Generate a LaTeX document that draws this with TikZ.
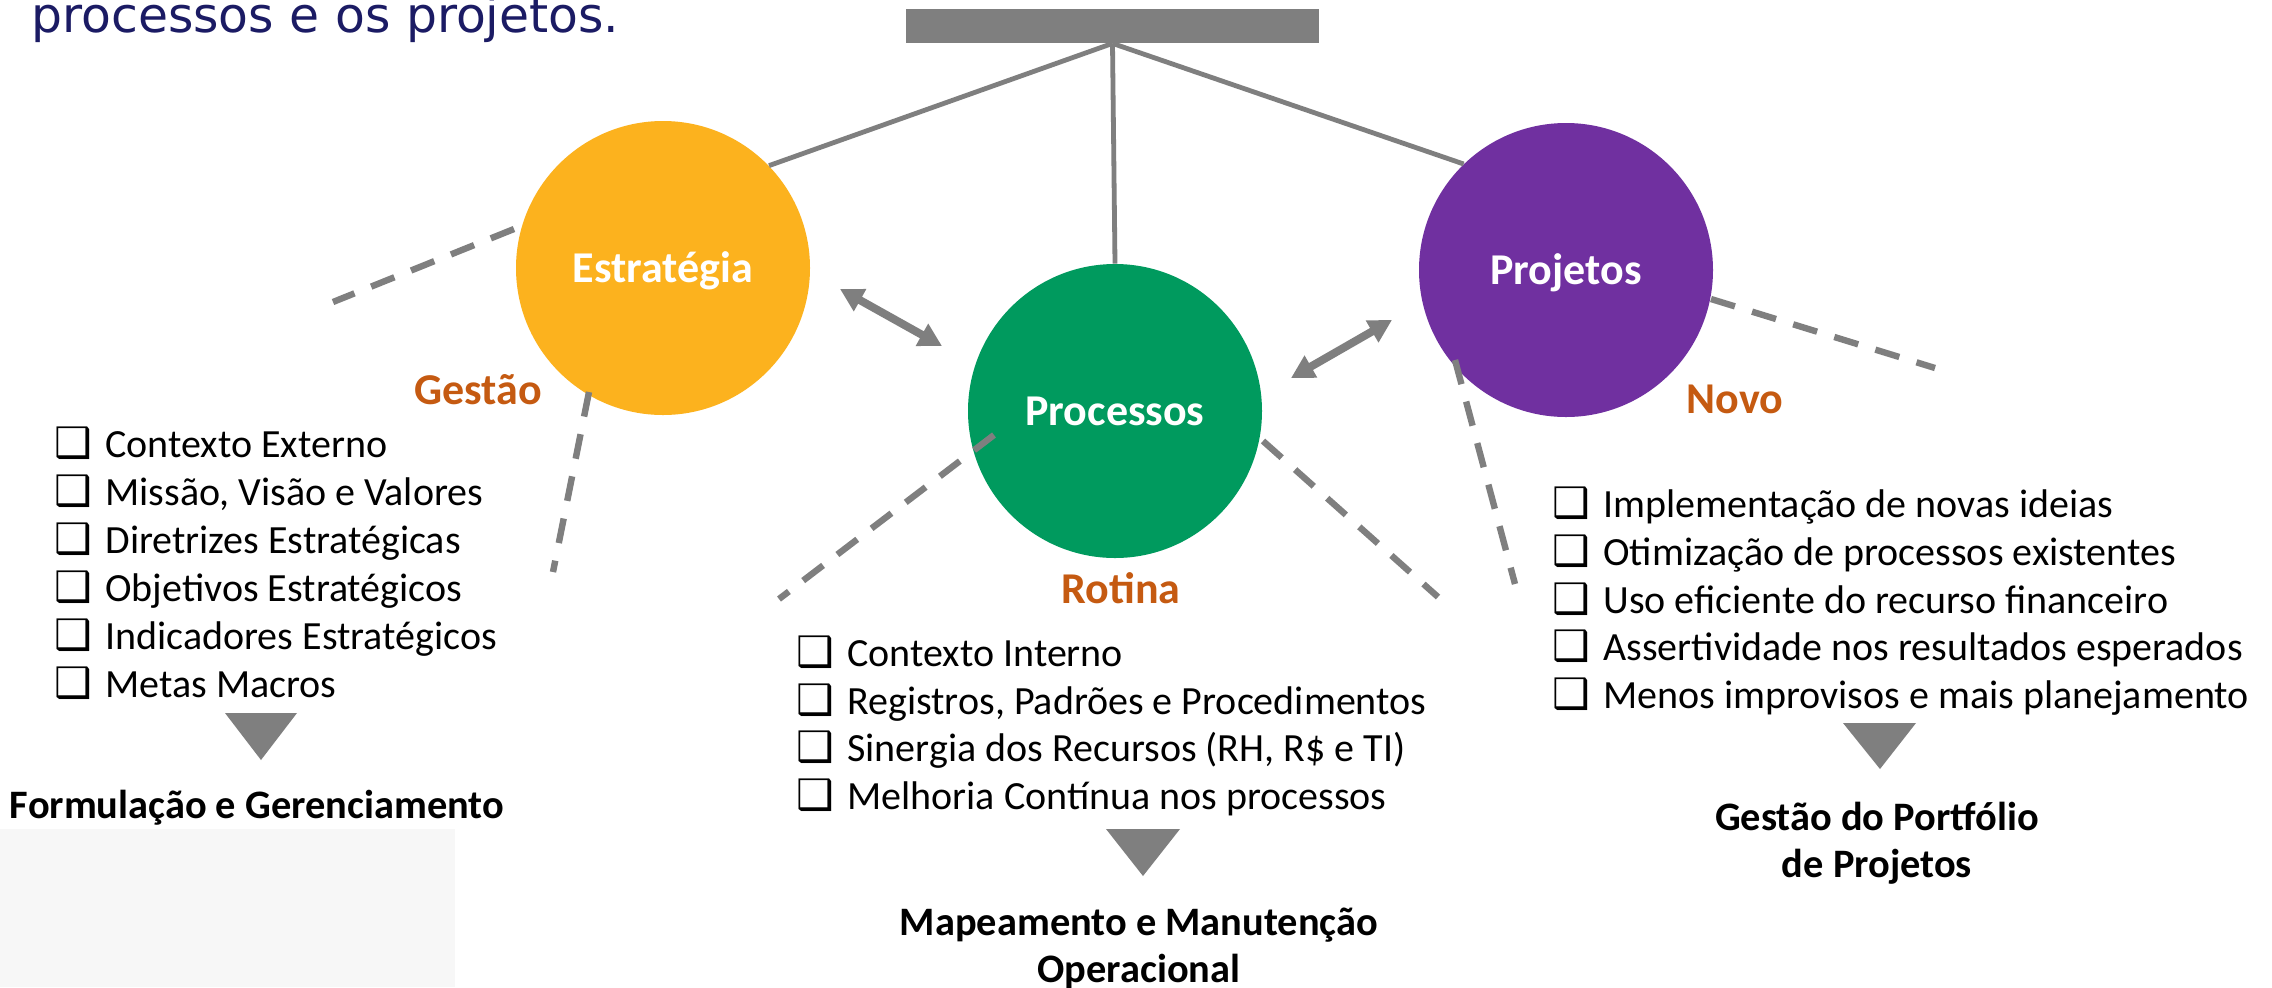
\documentclass[tikz,border=0pt]{standalone}
\usepackage{fontspec}
\setmainfont{Carlito}
\newfontfamily\symfont{DejaVu Sans}
\newfontfamily\titlefont{DejaVu Sans}
\usetikzlibrary{arrows.meta}
\definecolor{grayline}{RGB}{127,127,127}
\definecolor{estrcol}{RGB}{252,178,30}
\definecolor{proccol}{RGB}{0,154,94}
\definecolor{projcol}{RGB}{112,48,160}
\definecolor{orangetxt}{RGB}{197,90,17}
\definecolor{navytxt}{RGB}{27,27,100}
\definecolor{lightbg}{RGB}{247,247,247}
\newcommand{\chkbox}{\makebox[25.5pt][l]{\symfont\fontsize{21pt}{21pt}\selectfont ❑}}
\begin{document}
\begin{tikzpicture}[x=0.5pt,y=-0.5pt,
  circ/.style={circle, minimum size=147pt, inner sep=0pt, text=white,
    font=\bfseries\fontsize{22pt}{26pt}\selectfont, text height=16pt, text depth=2pt},
  conn/.style={draw=grayline, line width=2.4pt},
  dashconn/.style={draw=grayline, line width=3.2pt, dash pattern=on 12.5pt off 9pt},
  dblarrow/.style={draw=grayline, line width=4pt,
    {Triangle[length=11.5pt,width=12pt]}-{Triangle[length=11.5pt,width=12pt]}},
  item/.style={anchor=base west, inner sep=0pt, font=\fontsize{20pt}{23pt}\selectfont},
  tag/.style={anchor=base, inner sep=0pt, text=orangetxt, font=\bfseries\fontsize{22pt}{26pt}\selectfont},
  outcome/.style={anchor=base, inner sep=0pt, font=\bfseries\fontsize{20.2pt}{23.5pt}\selectfont},
  tri/.style={fill=grayline}
]
\useasboundingbox (0,0) rectangle (2272,987);
\fill[white] (0,0) rectangle (2272,987);
\fill[lightbg] (0,829) rectangle (455,987);

% title
\node[anchor=base west, inner sep=0pt, text=navytxt, font=\titlefont\fontsize{24.4pt}{28pt}\selectfont] (title) at (31,32) {processos e os projetos.};

% top bar
\node[fill=grayline, minimum width=206.5pt, minimum height=17pt, inner sep=0pt] (bar) at (1112.5,26) {};

% circles
\node[circ, fill=estrcol] (estr) at (663,268) {Estratégia};
\node[circ, fill=proccol] (proc) at (1115,411) {Processos};
\node[circ, fill=projcol] (proj) at (1566,270) {Projetos};

% solid connectors
\draw[conn] (bar.south) -- (estr.44);
\draw[conn] (bar.south) -- (proc.north);
\draw[conn] (bar.south) -- (proj.134);

% dashed lines
\coordinate (e1a) at (514,229); \coordinate (e1b) at (333,302);
\coordinate (e2a) at (589,392); \coordinate (e2b) at (553,572);
\coordinate (p1a) at (994,435); \coordinate (p1b) at (779,599);
\coordinate (p2a) at (1263,441); \coordinate (p2b) at (1438,597);
\coordinate (j1a) at (1711,299); \coordinate (j1b) at (1935,368);
\coordinate (j2a) at (1455,360); \coordinate (j2b) at (1515,584);
\draw[dashconn] (e1a) -- (e1b);
\draw[dashconn] (e2a) -- (e2b);
\draw[dashconn] (p1a) -- (p1b);
\draw[dashconn] (p2a) -- (p2b);
\draw[dashconn] (j1a) -- (j1b);
\draw[dashconn] (j2a) -- (j2b);

% double arrows
\coordinate (a1) at (840,289); \coordinate (a2) at (942,346);
\coordinate (b1) at (1291,378); \coordinate (b2) at (1392,320);
\draw[dblarrow] (a1) -- (a2);
\draw[dblarrow] (b1) -- (b2);

% tags
\node[tag] (gestao) at (478,404) {Gestão};
\node[tag] (rotina) at (1121,603) {Rotina};
\node[tag] (novo) at (1735,413) {Novo};

% left list
\node[item] (l1) at (54,457) {\chkbox Contexto Externo};
\node[item] (l2) at (54,505) {\chkbox Missão, Visão e Valores};
\node[item] (l3) at (54,553) {\chkbox Diretrizes Estratégicas};
\node[item] (l4) at (54,601) {\chkbox Objetivos Estratégicos};
\node[item] (l5) at (54,649) {\chkbox Indicadores Estratégicos};
\node[item] (l6) at (54,697) {\chkbox Metas Macros};

% middle list
\node[item] (m1) at (796,666) {\chkbox Contexto Interno};
\node[item] (m2) at (796,714) {\chkbox Registros, Padrões e Procedimentos};
\node[item] (m3) at (796,761) {\chkbox Sinergia dos Recursos (RH, R\$ e TI)};
\node[item] (m4) at (796,809) {\chkbox Melhoria Contínua nos processos};

% right list
\node[item] (r1) at (1552,517) {\chkbox Implementação de novas ideias};
\node[item] (r2) at (1552,565) {\chkbox Otimização de processos existentes};
\node[item] (r3) at (1552,613) {\chkbox Uso eficiente do recurso financeiro};
\node[item] (r4) at (1552,660) {\chkbox Assertividade nos resultados esperados};
\node[item] (r5) at (1552,708) {\chkbox Menos improvisos e mais planejamento};

% triangles
\fill[tri] (225,713) -- (297,713) -- (261,760) -- cycle;
\fill[tri] (1106,829) -- (1180,829) -- (1143,876) -- cycle;
\fill[tri] (1843,723) -- (1916,723) -- (1880,769) -- cycle;

% outcomes
\node[outcome] (o1) at (257,818) {Formulação e Gerenciamento};
\node[outcome] (o2) at (1139,935) {\begin{tabular}[t]{@{}c@{}}Mapeamento e Manutenção\\Operacional\end{tabular}};
\node[outcome] (o3) at (1877,830) {\begin{tabular}[t]{@{}c@{}}Gestão do Portfólio\\de Projetos\end{tabular}};
\end{tikzpicture}
\end{document}
